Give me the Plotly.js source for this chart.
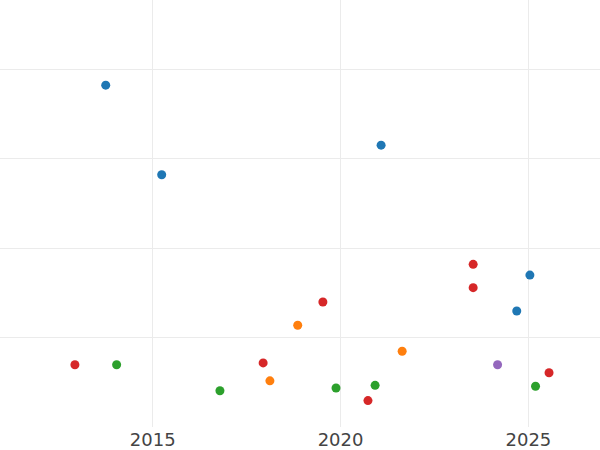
<!DOCTYPE html>
<html>
<head>
<meta charset="utf-8">
<script src="https://cdn.plot.ly/plotly-3.0.1.min.js"></script>
<style>html,body{margin:0;padding:0;background:#fff}#chart{width:600px;height:450px}</style>
</head>
<body>
<div id="chart"></div>
<script>
// Series (x = year, y = value, arbitrary units; y labels are hidden in the reference)
const blueX = [2013.75, 2015.24, 2021.08, 2025.04, 2024.69];
const blueY = [38.2, 28.2, 31.5, 17.0, 13.0];
const orangeX = [2018.86, 2018.12, 2021.64];
const orangeY = [11.4, 5.2, 8.5];
const greenX = [2014.04, 2016.79, 2019.88, 2020.92, 2025.19];
const greenY = [7.0, 4.1, 4.4, 4.7, 4.6];
const redX = [2012.93, 2017.94, 2019.53, 2023.53, 2023.53, 2025.55, 2020.73];
const redY = [7.0, 7.2, 14.0, 18.2, 15.6, 6.1, 3.0];
const purpleX = [2024.18];
const purpleY = [7.0];

const xTickVals = [2015, 2020, 2025];
const xTickText = ['2015', '2020', '2025'];

function series(x, y, color) {
  return {x: x, y: y, type: 'scatter', mode: 'markers',
          marker: {color: color, size: 9}, showlegend: false, hoverinfo: 'x+y'};
}

const data = [
  series(blueX, blueY, '#1f77b4'),
  series(orangeX, orangeY, '#ff7f0e'),
  series(greenX, greenY, '#2ca02c'),
  series(redX, redY, '#d62728'),
  series(purpleX, purpleY, '#9467bd')
];

const layout = {
  width: 600, height: 450,
  margin: {l: 0, r: 0, t: 0, b: 23},
  paper_bgcolor: '#ffffff', plot_bgcolor: '#ffffff',
  font: {family: 'DejaVu Sans', color: '#444444', size: 18},
  xaxis: {
    range: [2010.936, 2026.906],
    tickvals: xTickVals, ticktext: xTickText,
    showgrid: true, gridcolor: '#ebebeb', gridwidth: 1,
    zeroline: false, showline: false, ticks: '',
    tickfont: {family: 'DejaVu Sans', size: 18, color: '#444444'}
  },
  yaxis: {
    range: [0.05, 47.7],
    dtick: 10, tick0: 0,
    showgrid: true, gridcolor: '#ebebeb', gridwidth: 1,
    zeroline: false, showline: false, ticks: '',
    showticklabels: false
  }
};

Plotly.newPlot('chart', data, layout, {displayModeBar: false, staticPlot: true});
</script>
</body>
</html>
